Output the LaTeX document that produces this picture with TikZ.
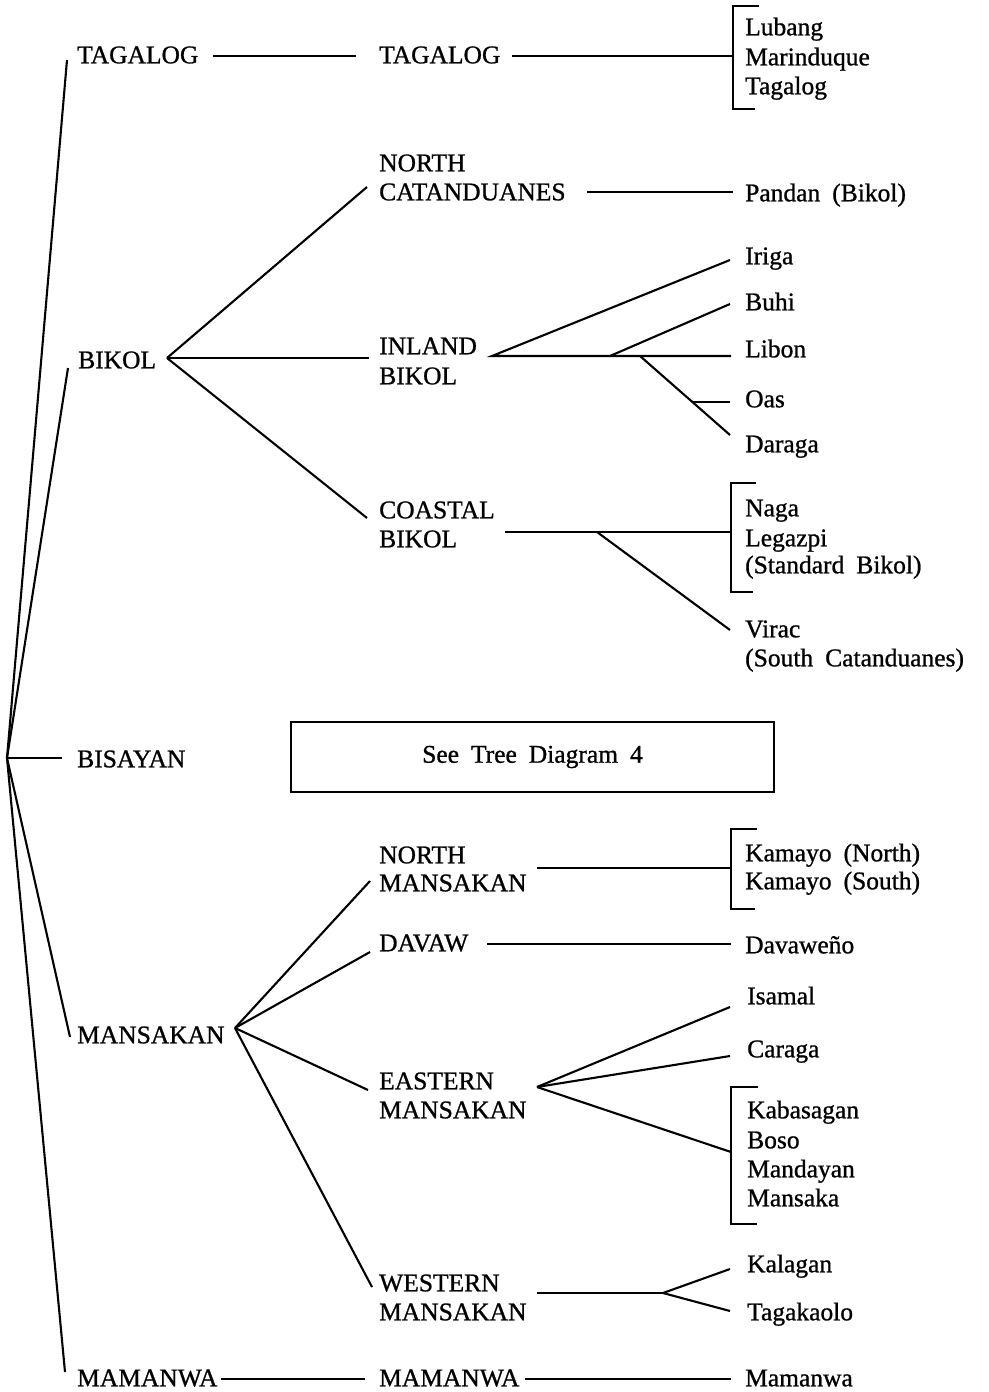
\documentclass[tikz,border=0pt]{standalone}
\usepackage{fontspec}
\setmainfont[FakeBold=0.9]{Liberation Serif}
\newcommand{\labfont}{\fontsize{25.5}{30}\selectfont\spaceskip=12pt plus 2pt minus 1pt\relax}
\begin{document}
\begin{tikzpicture}[x=1pt,y=-1pt,
  lab/.style={anchor=west, inner sep=0pt, text height=16.6pt, text depth=0pt, font=\labfont},
  ln/.style={line width=2.1pt},
  brk/.style={line width=2.1pt}]
\useasboundingbox (0,0) rectangle (988,1392);

% ---------- level 1 ----------
\coordinate (root) at (7,758);
\node[lab] (L1tag) at (77,55) {TAGALOG};
\node[lab] (L1bik) at (78,360) {BIKOL};
\node[lab] (L1bis) at (77,759) {BISAYAN};
\node[lab] (L1man) at (77,1035) {MANSAKAN};
\node[lab] (L1mam) at (77,1378) {MAMANWA};
\coordinate (rTag) at (67,60);
\coordinate (rBik) at (68,368);
\coordinate (rBis) at (62,758);
\coordinate (rMan) at (70,1037);
\coordinate (rMam) at (65,1372);
\draw[ln] (root) -- (rTag);
\draw[ln] (root) -- (rBik);
\draw[ln] (root) -- (rBis);
\draw[ln] (root) -- (rMan);
\draw[ln] (root) -- (rMam);

% ---------- level 2 ----------
\node[lab] (L2tag) at (379,55) {TAGALOG};
\node[lab] (nc1) at (379,163) {NORTH};
\node[lab] (nc2) at (379,192) {CATANDUANES};
\node[lab] (ib1) at (379,346) {INLAND};
\node[lab] (ib2) at (379,376) {BIKOL};
\node[lab] (cb1) at (379,510) {COASTAL};
\node[lab] (cb2) at (379,539) {BIKOL};
\node[draw, line width=1.8pt, minimum width=483pt, minimum height=70pt, inner sep=0pt, font=\labfont] (see) at (532.5,757) {See Tree Diagram 4};
\node[lab] (nm1) at (379,855) {NORTH};
\node[lab] (nm2) at (379,883) {MANSAKAN};
\node[lab] (dav) at (379,943) {DAVAW};
\node[lab] (em1) at (379,1081) {EASTERN};
\node[lab] (em2) at (379,1110) {MANSAKAN};
\node[lab] (wm1) at (379,1283) {WESTERN};
\node[lab] (wm2) at (379,1312) {MANSAKAN};
\node[lab] (L2mam) at (379,1378) {MAMANWA};

% ---------- leaves ----------
\node[lab] (lub) at (745,27) {Lubang};
\node[lab] (mar) at (745,57) {Marinduque};
\node[lab] (tgl) at (745,86) {Tagalog};
\node[lab] (pan) at (745,193) {Pandan (Bikol)};
\node[lab] (iri) at (745,256) {Iriga};
\node[lab] (buh) at (745,302) {Buhi};
\node[lab] (lib) at (745,349) {Libon};
\node[lab] (oas) at (745,399) {Oas};
\node[lab] (dar) at (745,444) {Daraga};
\node[lab] (nag) at (745,508) {Naga};
\node[lab] (leg) at (745,538) {Legazpi};
\node[lab] (stb) at (745,565) {(Standard Bikol)};
\node[lab] (vir) at (745,629) {Virac};
\node[lab] (soc) at (745,658) {(South Catanduanes)};
\node[lab] (kmn) at (745,853) {Kamayo (North)};
\node[lab] (kms) at (745,881) {Kamayo (South)};
\node[lab] (dvw) at (745,945) {Davaweño};
\node[lab] (isa) at (747,996) {Isamal};
\node[lab] (car) at (747,1049) {Caraga};
\node[lab] (kab) at (747,1110) {Kabasagan};
\node[lab] (bos) at (747,1140) {Boso};
\node[lab] (mdy) at (747,1169) {Mandayan};
\node[lab] (msk) at (747,1198) {Mansaka};
\node[lab] (kal) at (747,1264) {Kalagan};
\node[lab] (tgk) at (747,1312) {Tagakaolo};
\node[lab] (mmw) at (745,1378) {Mamanwa};

% ---------- Tagalog ----------
\coordinate (t1a) at (213,56);
\coordinate (t1b) at (356,56);
\coordinate (t2a) at (512,56);
\coordinate (tbr) at (733,56);
\draw[ln] (t1a) -- (t1b);
\draw[ln] (t2a) -- (tbr);
\draw[brk] (759,6) -- (733,6) -- (733,109) -- (755,109);

% ---------- Bikol ----------
\coordinate (bikJ) at (167,358);
\coordinate (bNC) at (367,187);
\coordinate (bIB) at (369,358);
\coordinate (bCB) at (367,518);
\draw[ln] (bikJ) -- (bNC);
\draw[ln] (bikJ) -- (bIB);
\draw[ln] (bikJ) -- (bCB);

\coordinate (ncA) at (587,192);
\coordinate (ncB) at (733,192);
\draw[ln] (ncA) -- (ncB);

\coordinate (inJ) at (492,356);
\coordinate (inIri) at (730,260);
\coordinate (inLib) at (731,356);
\coordinate (inJ2) at (610,356);
\coordinate (inBuh) at (730,304);
\coordinate (inJ3) at (640,356);
\coordinate (inDar) at (730,435);
\coordinate (inJ4) at (692,402);
\coordinate (inOas) at (730,402);
\draw[ln] (inIri) -- (inJ) -- (inLib);
\draw[ln] (inJ2) -- (inBuh);
\draw[ln] (inJ3) -- (inDar);
\draw[ln] (inJ4) -- (inOas);

\coordinate (cbA) at (505,532);
\coordinate (cbB) at (731,532);
\coordinate (cbJ) at (597,532);
\coordinate (cbV) at (730,630);
\draw[ln] (cbA) -- (cbB);
\draw[ln] (cbJ) -- (cbV);
\draw[brk] (756,483) -- (731,483) -- (731,592) -- (753,592);

% ---------- Mansakan ----------
\coordinate (manJ) at (235,1028);
\coordinate (mNM) at (370,881);
\coordinate (mDV) at (370,952);
\coordinate (mEM) at (368,1090);
\coordinate (mWM) at (372,1287);
\draw[ln] (manJ) -- (mNM);
\draw[ln] (manJ) -- (mDV);
\draw[ln] (manJ) -- (mEM);
\draw[ln] (manJ) -- (mWM);

\coordinate (nmA) at (537,868);
\coordinate (nmB) at (731,868);
\draw[ln] (nmA) -- (nmB);
\draw[brk] (757,829) -- (731,829) -- (731,909) -- (755,909);

\coordinate (dvA) at (487,944);
\coordinate (dvB) at (731,944);
\draw[ln] (dvA) -- (dvB);

\coordinate (emJ) at (537,1087);
\coordinate (emIsa) at (730,1007);
\coordinate (emCar) at (730,1056);
\coordinate (emBr) at (731,1152);
\draw[ln] (emJ) -- (emIsa);
\draw[ln] (emJ) -- (emCar);
\draw[ln] (emJ) -- (emBr);
\draw[brk] (758,1087) -- (731,1087) -- (731,1224) -- (757,1224);

\coordinate (wmA) at (537,1293);
\coordinate (wmJ) at (663,1293);
\coordinate (wmK) at (730,1269);
\coordinate (wmT) at (730,1311);
\draw[ln] (wmA) -- (wmJ);
\draw[ln] (wmK) -- (wmJ) -- (wmT);

% ---------- Mamanwa ----------
\coordinate (mmA) at (221,1379);
\coordinate (mmB) at (365,1379);
\coordinate (mmC) at (525,1379);
\coordinate (mmD) at (731,1379);
\draw[ln] (mmA) -- (mmB);
\draw[ln] (mmC) -- (mmD);
\end{tikzpicture}
\end{document}
